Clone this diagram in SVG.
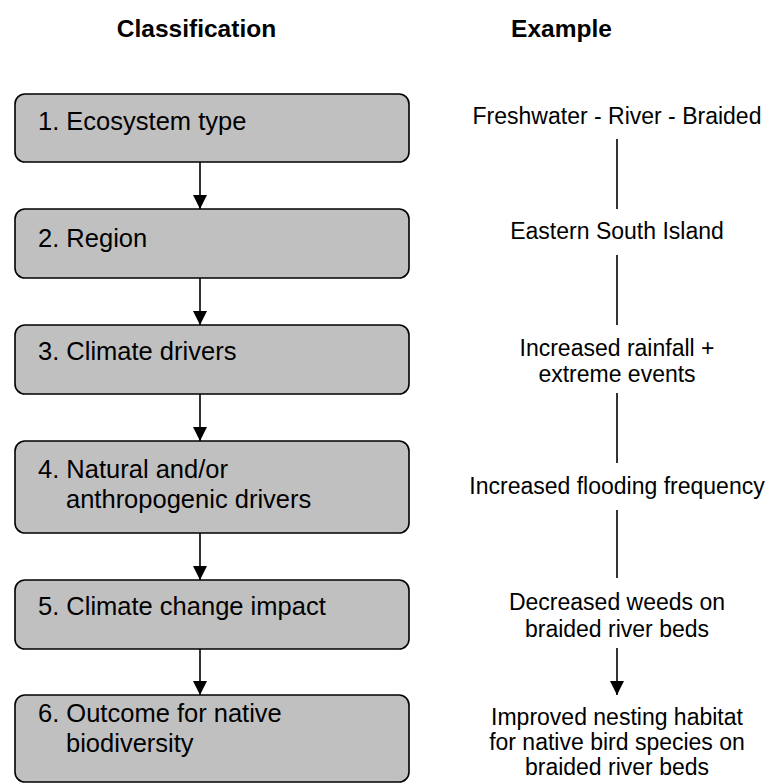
<svg xmlns="http://www.w3.org/2000/svg" width="770" height="783" viewBox="0 0 770 783">
  <style>
    .title { font-family: "Liberation Sans", Arial, Helvetica, sans-serif; font-weight: bold; font-size: 24.5px; fill: #000; text-anchor: middle; }
    .box { fill: #c0c0c0; stroke: #000; stroke-width: 1.6; }
    .lbl { font-family: "Liberation Sans", Arial, Helvetica, sans-serif; font-size: 25.5px; fill: #000; }
    .ex { font-family: "Liberation Sans", Arial, Helvetica, sans-serif; font-size: 23px; fill: #000; text-anchor: middle; }
    .conn { stroke: #000; stroke-width: 1.6; fill: none; }
  </style>
  <defs>
    <marker id="arrow" viewBox="0 0 14 15" refX="14" refY="7" markerWidth="14" markerHeight="15" markerUnits="userSpaceOnUse" orient="auto">
      <path d="M0,0 L14,7 L0,14 Z" fill="#000"/>
    </marker>
  </defs>

  <rect width="770" height="783" fill="#fff"/>

  <!-- column headings -->
  <text class="title" x="196.5" y="37">Classification</text>
  <text class="title" x="561.5" y="37">Example</text>

  <!-- classification steps -->
  <g id="step1">
    <rect class="box" x="15" y="94" width="394" height="68" rx="10"/>
    <text class="lbl" x="38" y="130">1. Ecosystem type</text>
  </g>
  <g id="step2">
    <rect class="box" x="15" y="209" width="394" height="69" rx="10"/>
    <text class="lbl" x="38" y="247">2. Region</text>
  </g>
  <g id="step3">
    <rect class="box" x="15" y="325" width="394" height="69" rx="10"/>
    <text class="lbl" x="38" y="360">3. Climate drivers</text>
  </g>
  <g id="step4">
    <rect class="box" x="15" y="441" width="394" height="92" rx="10"/>
    <text class="lbl" x="38" y="478">4. Natural and/or</text>
    <text class="lbl" x="66" y="508">anthropogenic drivers</text>
  </g>
  <g id="step5">
    <rect class="box" x="15" y="580" width="394" height="69" rx="10"/>
    <text class="lbl" x="38" y="615">5. Climate change impact</text>
  </g>
  <g id="step6">
    <rect class="box" x="15" y="695" width="394" height="87" rx="10"/>
    <text class="lbl" x="38" y="722">6. Outcome for native</text>
    <text class="lbl" x="66" y="752">biodiversity</text>
  </g>

  <!-- example chain -->
  <g id="ex1"><text class="ex" x="617" y="124">Freshwater - River - Braided</text></g>
  <g id="ex2"><text class="ex" x="617" y="239">Eastern South Island</text></g>
  <g id="ex3">
    <text class="ex" x="617" y="356">Increased rainfall +</text>
    <text class="ex" x="617" y="382">extreme events</text>
  </g>
  <g id="ex4"><text class="ex" x="617" y="494">Increased flooding frequency</text></g>
  <g id="ex5">
    <text class="ex" x="617" y="610">Decreased weeds on</text>
    <text class="ex" x="617" y="637">braided river beds</text>
  </g>
  <g id="ex6">
    <text class="ex" x="617" y="725">Improved nesting habitat</text>
    <text class="ex" x="617" y="750">for native bird species on</text>
    <text class="ex" x="617" y="775">braided river beds</text>
  </g>

  <!-- connectors -->
  <g id="connectors">
    <line class="conn" x1="200" y1="162" x2="200" y2="209" marker-end="url(#arrow)"/>
    <line class="conn" x1="200" y1="278" x2="200" y2="325" marker-end="url(#arrow)"/>
    <line class="conn" x1="200" y1="394" x2="200" y2="441" marker-end="url(#arrow)"/>
    <line class="conn" x1="200" y1="533" x2="200" y2="580" marker-end="url(#arrow)"/>
    <line class="conn" x1="200" y1="649" x2="200" y2="695" marker-end="url(#arrow)"/>

    <line class="conn" x1="617" y1="139" x2="617" y2="209"/>
    <line class="conn" x1="617" y1="255" x2="617" y2="325"/>
    <line class="conn" x1="617" y1="393" x2="617" y2="463"/>
    <line class="conn" x1="617" y1="510" x2="617" y2="578"/>
    <line class="conn" x1="617" y1="648" x2="617" y2="695" marker-end="url(#arrow)"/>
  </g>
</svg>
